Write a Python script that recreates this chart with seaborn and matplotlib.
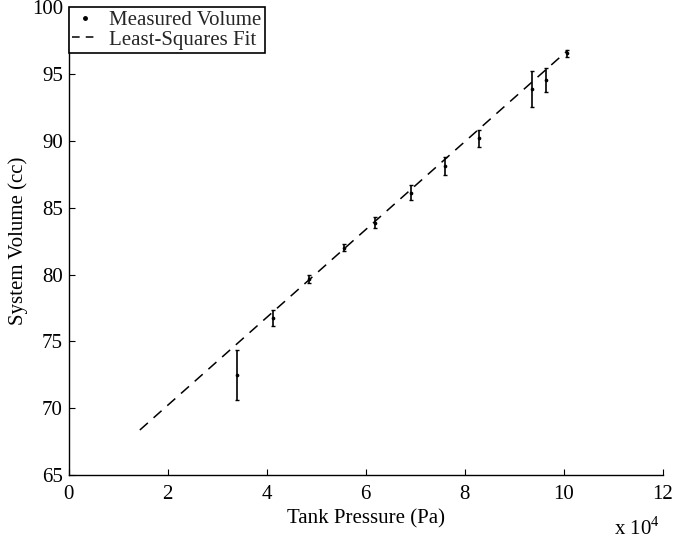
import numpy as np
import pandas as pd
import matplotlib
matplotlib.use("Agg")
import matplotlib.pyplot as plt
from matplotlib.lines import Line2D
import seaborn as sns

# Measured system volume at each tank pressure, with uncertainty
pressure_pa = [3.41e4, 4.13e4, 4.86e4, 5.56e4, 6.19e4, 6.91e4, 7.61e4, 8.29e4, 9.36e4, 9.64e4, 10.06e4]
volume_cc = [72.5, 76.75, 79.67, 82.02, 83.89, 86.14, 88.13, 90.21, 93.88, 94.55, 96.57]
volume_err = [1.85, 0.63, 0.27, 0.25, 0.40, 0.56, 0.68, 0.65, 1.33, 0.90, 0.28]

# Least-squares fit line endpoints
fit_pressure_pa = [1.44e4, 10.08e4]
fit_volume_cc = [68.37, 96.80]

x_ticks = [0, 2, 4, 6, 8, 10, 12]
y_ticks = [65, 70, 75, 80, 85, 90, 95, 100]

sns.set_theme(style="ticks")
plt.rcParams["font.family"] = ["Liberation Serif", "DejaVu Serif"]
plt.rcParams["mathtext.fontset"] = "custom"
plt.rcParams["mathtext.rm"] = "Liberation Serif"
plt.rcParams["xtick.direction"] = "in"
plt.rcParams["ytick.direction"] = "in"

meas = pd.DataFrame({"p": pressure_pa, "v": volume_cc, "e": volume_err})
fit = pd.DataFrame({"p": fit_pressure_pa, "v": fit_volume_cc})

fig = plt.figure(figsize=(6.73, 5.42), dpi=100)
ax = fig.add_axes([0.1018, 0.1236, 0.8833, 0.8626])

sns.lineplot(data=fit, x="p", y="v", ax=ax, color="black", linewidth=1.1,
             dashes=False, linestyle=(0, (7, 5)))
ax.errorbar(meas["p"], meas["v"], yerr=meas["e"], fmt="none",
            ecolor="black", elinewidth=1.2, capsize=1.5, capthick=1.0)
sns.scatterplot(data=meas, x="p", y="v", ax=ax, color="black", s=7,
                marker="o", edgecolor="black", linewidth=0)

ax.set_xlim(0, 12e4)
ax.set_ylim(65, 100)
ax.set_xticks([t * 1e4 for t in x_ticks])
ax.set_xticklabels([str(t) for t in x_ticks])
ax.set_yticks(y_ticks)
ax.set_yticklabels([str(t) for t in y_ticks])
ax.tick_params(axis="both", labelsize=15, length=4, width=0.8, color="black",
               labelcolor="black")
ax.tick_params(axis="x", pad=7)
ax.tick_params(axis="y", pad=4)

for s in ("top", "right"):
    ax.spines[s].set_visible(False)
for s in ("left", "bottom"):
    ax.spines[s].set_color("black")
    ax.spines[s].set_linewidth(1.0)

ax.set_xlabel("Tank Pressure (Pa)", fontsize=15, color="black", labelpad=4)
ax.set_ylabel("System Volume (cc)", fontsize=15, color="black", labelpad=3)

fig.text(0.912, 0.013, r"x 10$^{4}$", fontsize=15, color="black")

handles = [
    Line2D([], [], color="black", marker="o", markersize=2.5, linestyle="none"),
    Line2D([], [], color="black", linestyle=(0, (5, 4)), linewidth=1.1),
]
leg = ax.legend(handles, ["Measured Volume", "Least-Squares Fit"],
                loc="upper left", bbox_to_anchor=(0, 1), borderaxespad=0,
                fontsize=15, frameon=True, fancybox=False, framealpha=1,
                edgecolor="black", handlelength=1.3, handletextpad=0.5,
                labelspacing=0.0, borderpad=0.15)
leg.get_frame().set_linewidth(1.2)

fig.savefig("out.png", dpi=100)
